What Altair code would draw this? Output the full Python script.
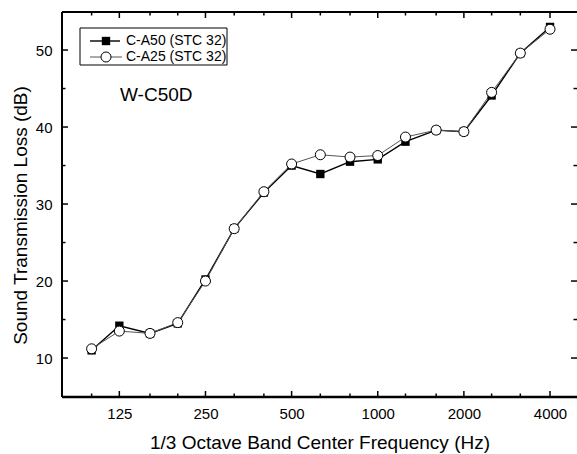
import altair as alt
import pandas as pd

# ---- data ----
freq = [100, 125, 160, 200, 250, 315, 400, 500, 630, 800, 1000, 1250, 1600, 2000, 2500, 3150, 4000]
a50 = [11.0, 14.2, 13.2, 14.5, 20.2, 26.8, 31.5, 35.0, 33.9, 35.5, 35.8, 38.1, 39.6, 39.4, 44.1, 49.6, 53.0]
a25 = [11.2, 13.5, 13.2, 14.6, 20.0, 26.8, 31.6, 35.2, 36.4, 36.1, 36.3, 38.7, 39.6, 39.4, 44.5, 49.6, 52.7]
series = ["C-A50 (STC 32)", "C-A25 (STC 32)"]
annotation = ["W-C50D"]
x_major = [125, 250, 500, 1000, 2000, 4000]
x_minor = [100, 160, 200, 315, 400, 630, 800, 1250, 1600, 2500, 3150]
y_major = [10, 20, 30, 40, 50]
y_minor = [15, 25, 35, 45]

W, H = 515, 385
FONT = "Liberation Sans"

xs = alt.Scale(type="log", domain=[78.8, 4970])
ys = alt.Scale(domain=[4.94, 54.94])

df = pd.DataFrame({"f": freq, "a50": a50, "a25": a25})

x_axis = alt.Axis(values=x_major, format="d", ticks=False, domain=False, grid=False,
                  labelFont=FONT, labelFontSize=15, labelColor="black", labelPadding=9,
                  title="1/3 Octave Band Center Frequency (Hz)", titleFont=FONT,
                  titleFontSize=19, titleFontWeight="normal", titleColor="black",
                  titleBaseline="alphabetic", titleY=51)
y_axis = alt.Axis(values=y_major, ticks=False, domain=False, grid=False,
                  labelFont=FONT, labelFontSize=15, labelColor="black", labelPadding=10,
                  title="Sound Transmission Loss (dB)", titleFont=FONT,
                  titleFontSize=19, titleFontWeight="normal", titleColor="black",
                  titleBaseline="alphabetic", titleX=-36, titleY=203, titleAngle=270)


def X(field):
    return alt.X(field, type="quantitative", scale=xs, axis=x_axis)


def Y(field):
    return alt.Y(field, type="quantitative", scale=ys, axis=y_axis)


base = alt.Chart(df)
line50 = base.mark_line(color="black", strokeWidth=1.4).encode(x=X("f"), y=Y("a50"))
line25 = base.mark_line(color="#555555", strokeWidth=1).encode(x=X("f"), y=Y("a25"))
squares = base.mark_square(size=70, color="black", opacity=1).encode(x=X("f"), y=Y("a50"))
circles = base.mark_point(shape="circle", filled=True, fill="white", stroke="black",
                          strokeWidth=1, size=100, opacity=1).encode(x=X("f"), y=Y("a25"))

one = pd.DataFrame({"d": [0]})
frame_left = alt.Chart(one).mark_rule(color="black", strokeWidth=2).encode(
    x=alt.value(0), y=alt.value(0), y2=alt.value(H))
frame_top = alt.Chart(one).mark_rule(color="black", strokeWidth=2).encode(
    y=alt.value(0), x=alt.value(0), x2=alt.value(W))
frame_bottom = alt.Chart(one).mark_rule(color="black", strokeWidth=2.5).encode(
    y=alt.value(H), x=alt.value(0), x2=alt.value(W))


def xticks(vals, length, width):
    d = pd.DataFrame({"f": vals})
    bot = alt.Chart(d).mark_rule(color="black", strokeWidth=width).encode(
        x=X("f"), y=alt.value(H), y2=alt.value(H - length))
    top = alt.Chart(d).mark_rule(color="black", strokeWidth=width).encode(
        x=X("f"), y=alt.value(0), y2=alt.value(length))
    return [bot, top]


def yticks(vals, length, width):
    d = pd.DataFrame({"v": vals})
    left = alt.Chart(d).mark_rule(color="black", strokeWidth=width).encode(
        y=Y("v"), x=alt.value(0), x2=alt.value(length))
    right = alt.Chart(d).mark_rule(color="black", strokeWidth=width).encode(
        y=Y("v"), x=alt.value(W), x2=alt.value(W - length))
    return [left, right]


ticks = xticks(x_major, 6, 1.5) + xticks(x_minor, 3.5, 1.5) + yticks(y_major, 6, 1.5) + yticks(y_minor, 3.5, 1.5)

# legend (manual, inside plot)
leg_box = alt.Chart(one).mark_rect(fill="white", stroke="black", strokeWidth=1).encode(
    x=alt.value(18), x2=alt.value(165), y=alt.value(16), y2=alt.value(53))
leg_l1 = alt.Chart(one).mark_rule(color="black", strokeWidth=1.4).encode(
    x=alt.value(28), x2=alt.value(58), y=alt.value(29))
leg_l2 = alt.Chart(one).mark_rule(color="#555555", strokeWidth=1).encode(
    x=alt.value(28), x2=alt.value(60), y=alt.value(45))
leg_s1 = alt.Chart(one).mark_square(size=70, color="black", opacity=1).encode(
    x=alt.value(44), y=alt.value(29))
leg_s2 = alt.Chart(one).mark_point(shape="circle", filled=True, fill="white", stroke="black",
                                   strokeWidth=1, size=100, opacity=1).encode(
    x=alt.value(44), y=alt.value(45))
leg_t1 = alt.Chart(pd.DataFrame({"label": [series[0]]})).mark_text(
    align="left", baseline="middle", font=FONT, fontSize=14, color="black").encode(
    text="label:N", x=alt.value(64), y=alt.value(29))
leg_t2 = alt.Chart(pd.DataFrame({"label": [series[1]]})).mark_text(
    align="left", baseline="middle", font=FONT, fontSize=14, color="black").encode(
    text="label:N", x=alt.value(64), y=alt.value(45))

ann = alt.Chart(pd.DataFrame({"t": annotation})).mark_text(
    align="left", baseline="middle", font=FONT, fontSize=19, color="black").encode(
    text="t:N", x=alt.value(58), y=alt.value(83))

chart = alt.layer(
    line50, line25, frame_left, frame_top, frame_bottom, *ticks, squares, circles,
    leg_box, leg_l1, leg_l2, leg_s1, leg_s2, leg_t1, leg_t2, ann
).properties(
    width=W, height=H,
    autosize=alt.AutoSizeParams(type="none"),
    padding={"left": 62, "top": 12, "right": 0, "bottom": 57},
    background="white",
).configure_view(stroke=None)

chart.save("out.html", embed_options={"renderer": "svg", "actions": False})
